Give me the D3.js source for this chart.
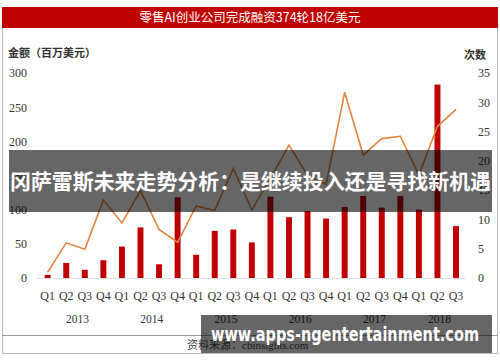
<!DOCTYPE html>
<html>
<head>
<meta charset="utf-8">
<script src="https://cdn.jsdelivr.net/npm/d3@7"></script>
<style>
  body { margin: 0; background: #fff; }
  svg { display: block; }
</style>
</head>
<body>
<script>
var width = 500;
var height = 362;

// quarters and years
var quarters = ["Q1","Q2","Q3","Q4","Q1","Q2","Q3","Q4","Q1","Q2","Q3","Q4",
                "Q1","Q2","Q3","Q4","Q1","Q2","Q3","Q4","Q1","Q2","Q3"];
var years = ["2013","2014","2015","2016","2017","2018"];
// funding amount, million USD (bars)
var amount = [4.5, 22, 12, 26, 46, 74, 20, 118, 34, 69, 71, 52,
              119, 89, 98, 87, 104, 120, 103, 120, 100, 283, 76];
// number of deals (line)
var deals = [1, 6, 4.9, 13.3, 9.4, 14.9, 8.3, 6.1, 12.3, 11.5, 18.7, 11.6,
             17, 22.7, 17.5, 16, 31.7, 21, 23.8, 24.2, 17.6, 25.9, 28.8];
var leftTicks = [0, 50, 100, 150, 200, 250, 300];
var rightTicks = [0, 5, 10, 15, 20, 25, 30, 35];

var serif = "'Liberation Serif', 'Noto Sans CJK SC', serif";
var cjk = "'Noto Sans CJK SC', sans-serif";

var svg = d3.select("body").append("svg")
    .attr("width", width)
    .attr("height", height);

// frame
svg.append("rect")
    .attr("x", 2.5).attr("y", 7.5)
    .attr("width", 495).attr("height", 346)
    .style("fill", "#fff")
    .style("stroke", "#bbb");

svg.append("line")
    .attr("x1", 2.5).attr("x2", 497.5)
    .attr("y1", 335.5).attr("y2", 335.5)
    .style("stroke", "#999");

// title band
svg.append("rect")
    .attr("x", 2).attr("y", 7)
    .attr("width", 496).attr("height", 21)
    .style("fill", "#c00000");

svg.append("text")
    .attr("x", 250).attr("y", 22)
    .attr("text-anchor", "middle")
    .style("font-family", cjk)
    .style("font-size", "12.5px")
    .style("fill", "#fff")
    .text("零售AI创业公司完成融资374轮18亿美元");

var idx = d3.range(quarters.length);

var x = d3.scaleBand()
    .domain(idx)
    .range([38.4, 465.3])
    .paddingInner(0.68)
    .paddingOuter(0.34);

var yL = d3.scaleLinear().domain([0, 300]).range([278, 73]);
var yR = d3.scaleLinear().domain([0, 35]).range([278, 73]);

var cx = function (i) { return x(i) + x.bandwidth() / 2; };

// axis titles
svg.append("text")
    .attr("x", 8).attr("y", 57)
    .style("font-family", cjk)
    .style("font-weight", "bold")
    .style("font-size", "11px")
    .style("fill", "#333")
    .text("金额（百万美元）");

svg.append("text")
    .attr("x", 464).attr("y", 59)
    .style("font-family", cjk)
    .style("font-weight", "bold")
    .style("font-size", "11px")
    .style("fill", "#333")
    .text("次数");

// left axis
var leftAxis = d3.axisLeft(yL).tickValues(leftTicks).tickSize(0).tickPadding(0);
svg.append("g")
    .attr("transform", "translate(27,0)")
    .call(leftAxis)
    .call(function (g) { g.select(".domain").remove(); })
    .selectAll("text")
    .style("font-family", serif)
    .style("font-size", "12px")
    .style("fill", "#333");

// right axis
var rightAxis = d3.axisRight(yR).tickValues(rightTicks).tickSize(0).tickPadding(0);
svg.append("g")
    .attr("transform", "translate(478,0)")
    .call(rightAxis)
    .call(function (g) { g.select(".domain").remove(); })
    .selectAll("text")
    .style("font-family", serif)
    .style("font-size", "12px")
    .style("fill", "#333");

// baseline
svg.append("line")
    .attr("x1", 37).attr("x2", 466)
    .attr("y1", yL(0) + 0.5).attr("y2", yL(0) + 0.5)
    .style("stroke", "#e2e2e2");

// bars
svg.selectAll(".bar")
    .data(amount)
  .enter().append("rect")
    .attr("class", "bar")
    .attr("x", function (d, i) { return x(i); })
    .attr("width", x.bandwidth())
    .attr("y", function (d) { return yL(d); })
    .attr("height", function (d) { return yL(0) - yL(d); })
    .style("fill", "#c00000");

// line
var line = d3.line()
    .x(function (d, i) { return cx(i); })
    .y(function (d) { return yR(d); });

svg.append("path")
    .datum(deals)
    .attr("d", line)
    .style("fill", "none")
    .style("stroke", "#e4843e")
    .style("stroke-width", 1.6);

// quarter labels
svg.selectAll(".q")
    .data(quarters)
  .enter().append("text")
    .attr("class", "q")
    .attr("x", function (d, i) { return cx(i); })
    .attr("y", 300)
    .attr("text-anchor", "middle")
    .style("font-family", serif)
    .style("font-size", "12px")
    .style("fill", "#333")
    .text(function (d) { return d; });

// year labels
svg.selectAll(".yr")
    .data(years)
  .enter().append("text")
    .attr("class", "yr")
    .attr("x", function (d, k) {
      var first = k * 4;
      var last = Math.min(first + 3, quarters.length - 1);
      return (cx(first) + cx(last)) / 2 + 2;
    })
    .attr("y", 323)
    .attr("text-anchor", "middle")
    .style("font-family", serif)
    .style("font-size", "11.5px")
    .style("fill", "#333")
    .text(function (d) { return d; });

// source
svg.append("text")
    .attr("x", 187).attr("y", 349)
    .style("font-family", serif)
    .style("font-size", "11px")
    .style("fill", "#444")
    .text("资料来源：cbinsights.com");

// headline overlay
svg.append("rect")
    .attr("x", 9).attr("y", 150)
    .attr("width", 483).attr("height", 62)
    .style("fill", "rgba(0,0,0,0.6)");

svg.append("text")
    .attr("x", 10).attr("y", 189)
    .attr("textLength", 481)
    .attr("lengthAdjust", "spacingAndGlyphs")
    .style("font-family", cjk)
    .style("font-weight", "bold")
    .style("font-size", "21px")
    .style("fill", "#fff")
    .text("冈萨雷斯未来走势分析：是继续投入还是寻找新机遇");

// watermark overlay
svg.append("rect")
    .attr("x", 201).attr("y", 315)
    .attr("width", 291).attr("height", 38)
    .style("fill", "rgba(0,0,0,0.6)");

svg.append("text")
    .attr("x", 211).attr("y", 341)
    .attr("textLength", 268)
    .attr("lengthAdjust", "spacingAndGlyphs")
    .style("font-family", "'DejaVu Sans', sans-serif")
    .style("font-weight", "bold")
    .style("font-size", "19px")
    .style("fill", "#fff")
    .text("www.apps-ngentertainment.com");
</script>
</body>
</html>
